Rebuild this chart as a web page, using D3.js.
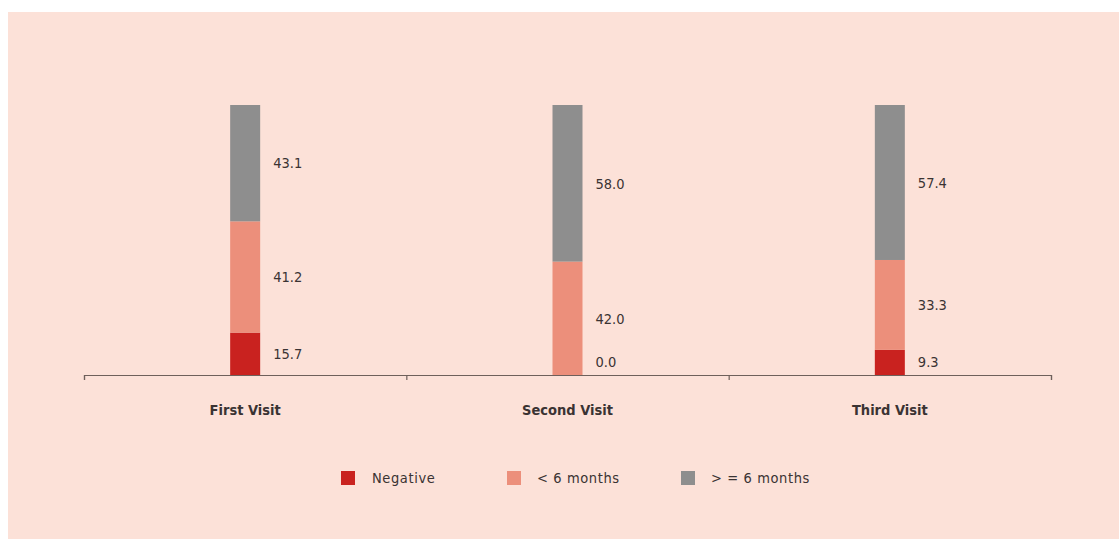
<!DOCTYPE html>
<html>
<head>
<meta charset="utf-8">
<script src="https://cdn.jsdelivr.net/npm/d3@7"></script>
<style>
  html, body { margin: 0; padding: 0; background: #ffffff; }
  svg { display: block; }
  text { font-family: "DejaVu Sans Condensed", "DejaVu Sans", sans-serif; fill: #3a3333; }
</style>
</head>
<body>
<svg id="chart" width="1119" height="539"></svg>
<script>
// Visit categories and the share (%) of each result group per visit
const categories = ["First Visit", "Second Visit", "Third Visit"];
const seriesNames = ["Negative", "< 6 months", "> = 6 months"];
const negative   = [15.7, 0.0, 9.3];
const lessSix    = [41.2, 42.0, 33.3];
const moreSix    = [43.1, 58.0, 57.4];
const colors = ["#c9221f", "#ec8f7b", "#8e8e8e"];

const rows = categories.map((c, i) => ({
  category: c,
  "Negative": negative[i],
  "< 6 months": lessSix[i],
  "> = 6 months": moreSix[i]
}));

const svg = d3.select("#chart");
const W = 1119, H = 539;

// Panel background
svg.append("rect")
  .attr("x", 8).attr("y", 12)
  .attr("width", W - 8).attr("height", H - 12)
  .attr("fill", "#fce1d8");

const plotLeft = 84, plotRight = 1051, plotTop = 105, plotBottom = 375;
const barWidth = 30;

const x = d3.scaleBand().domain(categories).range([plotLeft, plotRight]).padding(0);
const y = d3.scaleLinear().domain([0, 100]).range([plotBottom, plotTop]);

const stack = d3.stack().keys(seriesNames);
const layers = stack(rows);

const color = d3.scaleOrdinal().domain(seriesNames).range(colors);

// Stacked bars
const g = svg.append("g");
layers.forEach(layer => {
  g.selectAll(null)
    .data(layer)
    .join("rect")
    .attr("x", d => x(d.data.category) + x.bandwidth() / 2 - barWidth / 2)
    .attr("width", barWidth)
    .attr("y", d => y(d[1]))
    .attr("height", d => y(d[0]) - y(d[1]))
    .attr("fill", color(layer.key));
});

// Value labels beside each segment
layers.forEach(layer => {
  g.selectAll(null)
    .data(layer)
    .join("text")
    .attr("x", d => x(d.data.category) + x.bandwidth() / 2 + barWidth / 2 + 13)
    .attr("y", d => Math.min((y(d[0]) + y(d[1])) / 2, plotBottom - 13))
    .attr("dy", "0.36em")
    .attr("font-size", 14.5)
    .text(d => (d[1] - d[0]).toFixed(1));
});

// Category axis: baseline with boundary ticks
const edges = d3.scaleLinear().domain([0, categories.length]).range([plotLeft, plotRight]);
const axisEdges = svg.append("g")
  .attr("transform", `translate(0,${plotBottom})`)
  .call(d3.axisBottom(edges)
    .tickValues(d3.range(categories.length + 1))
    .tickSize(5)
    .tickSizeOuter(5)
    .tickFormat(""));
axisEdges.selectAll("path, line").attr("stroke", "#6e605b").attr("stroke-width", 1.2);

const axisCats = svg.append("g")
  .attr("transform", `translate(0,${plotBottom})`)
  .call(d3.axisBottom(x).tickSize(0).tickPadding(30));
axisCats.select(".domain").remove();
axisCats.selectAll("text")
  .attr("font-size", 14.5)
  .attr("font-weight", "bold")
  .attr("font-family", "'DejaVu Sans Condensed', 'DejaVu Sans', sans-serif")
  .attr("fill", "#2e2a2a");

// Legend
const legendX = [341, 507, 681];
const legend = svg.append("g");
seriesNames.forEach((name, i) => {
  legend.append("rect")
    .attr("x", legendX[i]).attr("y", 471)
    .attr("width", 14).attr("height", 14)
    .attr("fill", colors[i]);
  legend.append("text")
    .attr("x", legendX[i] + 31 - (i === 0 ? 0 : 1))
    .attr("y", 478)
    .attr("dy", "0.36em")
    .attr("font-size", 14.5)
    .attr("letter-spacing", 0.6)
    .text(name);
});
</script>
</body>
</html>
